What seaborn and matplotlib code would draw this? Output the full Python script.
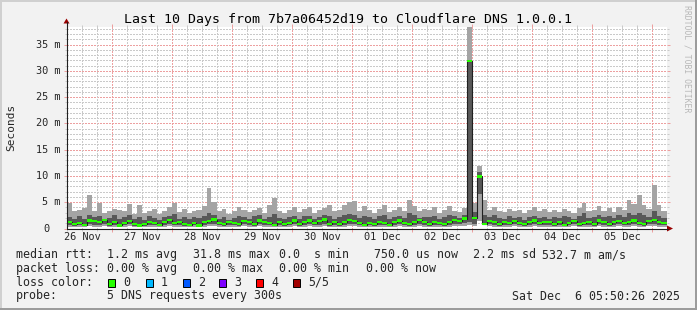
import numpy as np
import matplotlib
matplotlib.use("Agg")
import matplotlib.pyplot as plt
import seaborn as sns
from matplotlib.patches import Rectangle, Polygon
from matplotlib.lines import Line2D

# ---------------- data ----------------
title = "Last 10 Days from 7b7a06452d19 to Cloudflare DNS 1.0.0.1"
day_labels = ["26 Nov", "27 Nov", "28 Nov", "29 Nov", "30 Nov",
              "01 Dec", "02 Dec", "03 Dec", "04 Dec", "05 Dec"]
y_tick_values = [0, 5, 10, 15, 20, 25, 30, 35]          # ms
y_tick_labels = ["0", "5 m", "10 m", "15 m", "20 m", "25 m", "30 m", "35 m"]
start_hour = 5 + 50 / 60 + 26 / 3600                     # Nov 26 05:50:26
step_hours = 2.0

# smoke (sorted pings, ms) per 2-hour step
rtt_max = [4.8, 3.4, 3.6, 3.9, 6.3, 3.4, 4.9, 3.0, 3.4, 3.7, 3.5, 3.4,
           4.6, 2.8, 4.4, 2.9, 3.4, 3.7, 2.8, 3.4, 4.1, 4.8, 3.1, 3.7,
           2.9, 3.3, 3.6, 4.2, 7.7, 5.1, 3.3, 3.8, 2.8, 3.4, 4.0, 3.6,
           3.1, 3.5, 3.9, 2.9, 4.4, 5.8, 3.3, 3.0, 3.6, 4.1, 3.2, 3.8,
           4.1, 3.0, 3.5, 3.9, 4.5, 3.3, 3.6, 4.4, 5.1, 5.2, 3.4, 4.2,
           3.6, 3.0, 3.8, 4.5, 3.2, 3.6, 4.0, 3.4, 5.5, 4.3, 3.3, 3.8,
           3.5, 4.0, 3.0, 3.6, 4.3, 3.4, 3.1, 3.9, 40.0, 4.9, 11.8, 5.5,
           3.6, 4.1, 3.4, 3.1, 3.8, 3.3, 3.6, 2.9, 3.5, 4.0, 3.3, 3.7,
           3.1, 3.6, 3.2, 3.8, 3.4, 3.0, 3.9, 4.8, 3.3, 3.6, 4.2, 3.4,
           3.9, 3.2, 4.1, 3.6, 5.5, 4.6, 6.3, 4.4, 3.8, 8.2, 4.5, 3.4]
rtt_q3 = [2.2, 1.8, 2.4, 1.9, 2.6, 2.1, 2.3, 1.7, 2.0, 2.5, 1.9, 2.2,
          2.6, 1.8, 2.1, 1.7, 2.3, 2.0, 1.6, 2.2, 2.4, 2.7, 1.9, 2.1,
          1.8, 2.2, 2.0, 2.4, 3.0, 2.5, 1.9, 2.2, 1.7, 2.0, 2.4, 2.1,
          1.9, 2.3, 2.5, 1.8, 2.2, 2.7, 2.0, 1.8, 2.1, 2.4, 1.9, 2.3,
          2.4, 1.9, 2.1, 2.6, 2.3, 1.9, 2.2, 2.5, 2.8, 2.6, 2.0, 2.4,
          2.1, 1.8, 2.3, 2.6, 1.9, 2.2, 2.4, 2.0, 2.9, 2.5, 2.0, 2.2,
          2.1, 2.4, 1.8, 2.2, 2.5, 2.3, 2.0, 2.6, 31.8, 3.2, 10.8, 2.6,
          2.2, 2.5, 2.0, 1.8, 2.3, 2.0, 2.2, 1.7, 2.1, 2.4, 2.0, 2.2,
          1.9, 2.2, 2.0, 2.3, 2.1, 1.8, 2.4, 2.9, 2.0, 2.2, 2.5, 2.1,
          2.3, 2.0, 2.5, 2.2, 2.9, 2.6, 3.0, 2.5, 2.2, 3.3, 2.4, 2.0]
rtt_median = [1.2, 0.9, 1.1, 0.7, 1.5, 1.4, 1.3, 1.6, 0.9, 1.2, 0.6, 1.0,
              1.4, 0.8, 0.6, 0.9, 1.3, 1.1, 0.7, 1.2, 1.6, 1.0, 1.3, 0.8,
              0.7, 1.0, 0.6, 1.2, 1.4, 1.7, 1.0, 0.8, 1.3, 1.1, 0.9, 1.4,
              1.2, 0.8, 1.5, 1.3, 1.0, 0.7, 1.3, 0.9, 1.1, 1.5, 0.8, 1.2,
              1.5, 1.0, 1.4, 1.7, 0.9, 1.3, 0.8, 1.2, 1.6, 1.4, 1.0, 0.7,
              1.1, 0.8, 1.3, 1.0, 0.7, 1.2, 1.5, 1.1, 0.9, 1.3, 1.6, 1.2,
              0.9, 1.3, 1.1, 0.8, 1.2, 1.6, 1.4, 1.9, 31.8, 2.0, 9.9, 0.9,
              1.4, 1.2, 0.9, 1.3, 1.0, 1.4, 1.1, 0.8, 1.2, 1.5, 1.0, 1.3,
              1.3, 0.9, 1.2, 0.7, 1.0, 1.4, 0.8, 1.1, 1.3, 0.9, 1.5, 1.2,
              0.8, 1.2, 1.4, 1.0, 1.3, 1.5, 1.1, 0.9, 1.4, 1.6, 1.2, 1.0]
rtt_q1 = [0.7, 0.5, 0.6, 0.4, 0.8, 0.7, 0.6, 0.9, 0.5, 0.6, 0.4, 0.6,
          0.8, 0.5, 0.4, 0.5, 0.7, 0.6, 0.4, 0.7, 0.9, 0.6, 0.7, 0.5,
          0.4, 0.6, 0.4, 0.7, 0.8, 0.9, 0.6, 0.5, 0.7, 0.6, 0.5, 0.8,
          0.7, 0.5, 0.8, 0.7, 0.6, 0.4, 0.7, 0.5, 0.6, 0.8, 0.5, 0.7,
          0.8, 0.6, 0.7, 0.9, 0.5, 0.7, 0.5, 0.7, 0.9, 0.8, 0.6, 0.4,
          0.6, 0.5, 0.7, 0.6, 0.4, 0.7, 0.8, 0.6, 0.5, 0.7, 0.9, 0.7,
          0.5, 0.7, 0.6, 0.5, 0.7, 0.9, 0.8, 1.0, 1.2, 0.9, 6.5, 0.8,
          0.8, 0.7, 0.5, 0.7, 0.6, 0.8, 0.6, 0.5, 0.7, 0.8, 0.6, 0.7,
          0.7, 0.5, 0.7, 0.4, 0.6, 0.8, 0.5, 0.6, 0.7, 0.5, 0.8, 0.7,
          0.5, 0.7, 0.8, 0.6, 0.7, 0.9, 0.6, 0.5, 0.8, 0.9, 0.7, 0.6]
rtt_min = [0.3, 0.2, 0.3, 0.2, 0.4, 0.3, 0.2, 0.4, 0.2, 0.3, 0.2, 0.3,
           0.4, 0.2, 0.2, 0.3, 0.3, 0.2, 0.2, 0.3, 0.4, 0.3, 0.3, 0.2,
           0.2, 0.3, 0.2, 0.3, 0.4, 0.4, 0.3, 0.2, 0.3, 0.3, 0.2, 0.4,
           0.3, 0.2, 0.4, 0.3, 0.3, 0.2, 0.3, 0.2, 0.3, 0.4, 0.2, 0.3,
           0.4, 0.3, 0.3, 0.4, 0.2, 0.3, 0.2, 0.3, 0.4, 0.4, 0.3, 0.2,
           0.3, 0.2, 0.3, 0.3, 0.2, 0.3, 0.4, 0.3, 0.2, 0.3, 0.4, 0.3,
           0.2, 0.3, 0.3, 0.2, 0.3, 0.4, 0.4, 0.5, 0.6, 0.4, 1.5, 0.8,
           0.4, 0.3, 0.2, 0.3, 0.3, 0.4, 0.3, 0.2, 0.3, 0.4, 0.3, 0.3,
           0.3, 0.2, 0.3, 0.2, 0.3, 0.4, 0.2, 0.3, 0.3, 0.2, 0.4, 0.3,
           0.2, 0.3, 0.4, 0.3, 0.3, 0.4, 0.3, 0.2, 0.4, 0.4, 0.3, 0.3]

legend_rtt = ["1.2 ms avg", "31.8 ms max", "0.0  s min", "750.0 us now",
              "2.2 ms sd", "532.7 m am/s"]
legend_loss = ["0.00 % avg", "0.00 % max", "0.00 % min", "0.00 % now"]
loss_labels = ["0", "1", "2", "3", "4", "5/5"]
loss_colors = ["#26ff00", "#00b8ff", "#0059ff", "#7e00ff", "#ff0000", "#a10000"]
probe_text = "5 DNS requests every 300s"
stamp_text = "Sat Dec  6 05:50:26 2025"

# ---------------- figure ----------------
sns.set_style("white")
W, H = 697, 310
MONO = ["DejaVu Sans Mono"]
plt.rcParams["font.family"] = MONO
plt.rcParams["lines.scale_dashes"] = False
fig = plt.figure(figsize=(W / 100, H / 100), dpi=100, facecolor="#f2f2f2")

X0, X1 = 66.5, 666.5        # plot area pixels
Y0, YT = 228.5, 27.0
PX_PER_MS = 5.257
ax = fig.add_axes([X0 / W, 1 - Y0 / H, (X1 - X0) / W, (Y0 - YT) / H])
ax.set_facecolor("white")
t0 = start_hour / 24.0
ax.set_xlim(t0, t0 + 10)
ymax = (Y0 - YT) / PX_PER_MS
ax.set_ylim(0, ymax)
for s in ax.spines.values():
    s.set_visible(False)

GRID = "#cacaca"
MGRID = "#eda0a0"
dots = (0, (1.44, 1.44))   # 2 px on / 2 px off
# horizontal grid
for v in range(1, int(ymax) + 1):
    ax.axhline(v, color=MGRID if v % 5 == 0 else GRID, lw=0.72, ls=dots,
               zorder=0, antialiased=False)
# vertical grid
qd = np.arange(np.ceil(t0 * 4) / 4, t0 + 10 + 1e-9, 0.25)
for q in qd:
    is_major = abs(q - round(q)) < 1e-6
    ax.axvline(q, color=MGRID if is_major else GRID, lw=0.72, ls=dots,
               zorder=0, antialiased=False)

# ticks (rrdtool style: short solid grid-coloured marks outside the graph)
ax.set_xticks([d for d in range(1, 11)])
ax.set_xticks(qd, minor=True)
ax.set_yticks(y_tick_values)
ax.set_yticks(np.arange(0, int(ymax) + 1, 1), minor=True)
ax.tick_params(which="major", direction="out", length=2.2, width=0.72, color=MGRID,
               labelbottom=False, labelleft=False, top=True, right=True, bottom=True, left=True)
ax.tick_params(which="minor", direction="out", length=1.45, width=0.72, color=GRID,
               top=True, right=True, bottom=True, left=True)

# smoke
n = len(rtt_median)
edges = t0 + np.arange(n + 1) * step_hours / 24.0
ext = lambda a: np.append(np.asarray(a, float), a[-1])
ax.fill_between(edges, ext(rtt_min), ext(rtt_max), step="post", color="#a4a4a4",
                lw=0, zorder=2, antialiased=False)
ax.fill_between(edges, ext(rtt_q1), ext(rtt_q3), step="post", color="#585858",
                lw=0, zorder=3, antialiased=False)
sns.lineplot(x=edges, y=ext(rtt_median), drawstyle="steps-post", color="#202020",
             lw=0.8, ax=ax, zorder=4, estimator=None)
sw = 0.22
med = ext(rtt_median)
ax.fill_between(edges, med - sw, med + sw, step="post", color=loss_colors[0],
                lw=0, zorder=5, antialiased=False)
ax.set_xlabel("")
ax.set_ylabel("")

# axes lines with arrows
def px(x, y):
    return (x / W, 1 - y / H)

AX_COL = "#202020"
fig.add_artist(Line2D([X0 / W, X0 / W], [1 - Y0 / H, 1 - 22 / H], color=AX_COL, lw=0.8))
fig.add_artist(Line2D([X0 / W, 668 / W], [1 - Y0 / H, 1 - Y0 / H], color=AX_COL, lw=0.8))
ARW = "#990000"
fig.add_artist(Polygon([px(X0 - 3, 23.5), px(X0 + 3, 23.5), px(X0, 18.5)],
                       closed=True, color=ARW, lw=0))
fig.add_artist(Polygon([px(667, Y0 - 3), px(667, Y0 + 3), px(673, Y0)],
                       closed=True, color=ARW, lw=0))

def ftext(x, y, s, **kw):
    fig.text(x / W, 1 - y / H, s, **kw)

# title
ftext(348, 19.5, title, ha="center", va="center", fontsize=9.55, color="#000000")
# y tick labels
for v, lab in zip(y_tick_values, y_tick_labels):
    yy = Y0 - v * PX_PER_MS
    if lab == "0":
        ftext(43, yy, lab, ha="left", va="center", fontsize=7.4)
    else:
        ftext(60.5, yy, lab, ha="right", va="center", fontsize=7.4)
# x tick labels at noon
for i, lab in enumerate(day_labels):
    xx = X0 + (i + 0.5 - t0) * 60
    ftext(xx, 237.5, lab, ha="center", va="center", fontsize=7.4)
# y axis title
ftext(11, 127.5, "Seconds", ha="center", va="center", rotation=90, fontsize=8)
# watermark
ftext(687, 59, "RRDTOOL / TOBI OETIKER", ha="center", va="center", rotation=270,
      fontsize=5.9, color="#b8b8b8")

# legend
LF = 8.4
rows_y = [254.5, 268.3, 282.3, 296.0]
ftext(16, rows_y[0], "median rtt:", ha="left", va="center", fontsize=LF)
for x, s in zip([107, 193, 279, 374, 473, 542], legend_rtt):
    ftext(x, rows_y[0], s, ha="left", va="center", fontsize=LF)
ftext(16, rows_y[1], "packet loss:", ha="left", va="center", fontsize=LF)
for x, s in zip([107, 193, 279, 365.5], legend_loss):
    ftext(x, rows_y[1], s, ha="left", va="center", fontsize=LF)
ftext(16, rows_y[2], "loss color:", ha="left", va="center", fontsize=LF)
box_x = [108.3, 145.7, 182.7, 219.3, 256.0, 293.3]
for bx, col, lab in zip(box_x, loss_colors, loss_labels):
    fig.add_artist(Rectangle(px(bx, 286.5), 7 / W, 8 / H, facecolor=col,
                             edgecolor="#000000", lw=0.7))
    ftext(bx + 15, rows_y[2], lab, ha="left", va="center", fontsize=LF)
ftext(16, rows_y[3], "probe:", ha="left", va="center", fontsize=LF)
ftext(107, rows_y[3], probe_text, ha="left", va="center", fontsize=LF)
ftext(680, rows_y[3], stamp_text, ha="right", va="center", fontsize=LF)

# frame
fig.add_artist(Rectangle((0, 1 - 2 / H), 1, 2 / H, facecolor="#d0d0d0", lw=0))
fig.add_artist(Rectangle((0, 0), 2 / W, 1, facecolor="#d0d0d0", lw=0))
fig.add_artist(Rectangle((0, 0), 1, 2 / H, facecolor="#9c9c9c", lw=0))
fig.add_artist(Rectangle((1 - 2 / W, 0), 2 / W, 1, facecolor="#9c9c9c", lw=0))

fig.savefig("out.png", dpi=100, facecolor=fig.get_facecolor())
